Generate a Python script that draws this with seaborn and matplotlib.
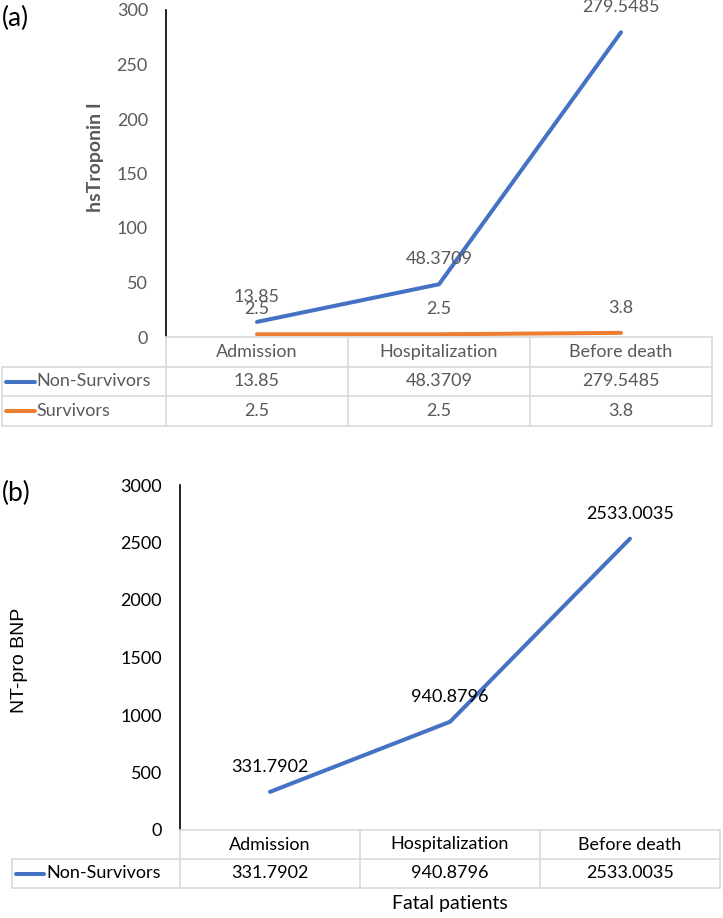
import numpy as np
import pandas as pd
import seaborn as sns
import matplotlib.pyplot as plt

# values
stages = ["Admission", "Hospitalization", "Before death"]
tropo_non_survivors = [13.85, 48.3709, 279.5485]
tropo_survivors = [2.5, 2.5, 3.8]
bnp_non_survivors = [331.7902, 940.8796, 2533.0035]
tropo_ticks = [0, 50, 100, 150, 200, 250, 300]
bnp_ticks = [0, 500, 1000, 1500, 2000, 2500, 3000]

BLUE = "#4472C4"
ORANGE = "#ED7D31"
GRID = "#D9D9D9"
FS = 13

sns.set_style("white")
plt.rcParams["font.family"] = ["Lato", "DejaVu Sans"]

W, H = 723, 918
fig = plt.figure(figsize=(W / 100, H / 100), dpi=100)


def px_axes(left, top, right, bottom):
    return fig.add_axes([left / W, 1 - bottom / H, (right - left) / W, (bottom - top) / H])


def panel(plot_box, table_left, table_bottom, series, ticks, txt_color):
    left, top, right, bottom = plot_box
    ax = px_axes(left, top, right, bottom)
    df = pd.DataFrame([(name, s, v) for name, vals, _ in series for s, v in zip(stages, vals)],
                      columns=["series", "stage", "value"])
    pal = {name: c for name, _, c in series}
    df["x"] = df["stage"].map({s: i for i, s in enumerate(stages)})
    sns.lineplot(data=df, x="x", y="value", hue="series", palette=pal, ax=ax,
                 linewidth=2.9, legend=False, sort=False)
    for name, vals, c in series:
        for i, v in enumerate(vals):
            ax.annotate(str(v), (i, v), xytext=(0, 18), textcoords="offset points",
                        ha="center", va="center", fontsize=FS, color=txt_color)
    ax.set_xlim(-0.5, 2.5)
    ax.set_ylim(ticks[0], ticks[-1])
    ax.set_yticks(ticks)
    ax.set_xticks([])
    ax.set_xlabel("")
    ax.set_ylabel("")
    ax.tick_params(axis="y", length=0, pad=13, labelsize=FS, labelcolor=txt_color)
    for sp in ["top", "right", "bottom"]:
        ax.spines[sp].set_visible(False)
    ax.spines["left"].set_color("black")
    ax.spines["left"].set_linewidth(1.2)

    # data table below the plot
    col_w = (right - left) / 3
    nrows = 1 + len(series)
    tb = px_axes(table_left, bottom, right, table_bottom)
    x0 = -0.5 - (left - table_left) / col_w
    tb.set_xlim(x0, 2.5)
    tb.set_ylim(nrows, 0)
    tb.axis("off")
    kw = dict(color=GRID, lw=1.2, clip_on=False)
    tb.plot([-0.5, 2.5], [0, 0], **kw)
    for r in range(1, nrows + 1):
        tb.plot([x0, 2.5], [r, r], **kw)
    tb.plot([x0, x0], [1, nrows], **kw)
    for c in range(4):
        tb.plot([c - 0.5, c - 0.5], [0, nrows], **kw)
    for i, s in enumerate(stages):
        tb.text(i, 0.5, s, ha="center", va="center", fontsize=FS, color=txt_color)
    for r, (name, vals, c) in enumerate(series, start=1):
        tb.plot([x0 + 0.02, x0 + 0.18], [r + 0.5, r + 0.5], color=c, lw=2.9,
                solid_capstyle="round", clip_on=False)
        tb.text(x0 + 0.19, r + 0.5, name, ha="left", va="center", fontsize=FS, color=txt_color)
        for i, v in enumerate(vals):
            tb.text(i, r + 0.5, str(v), ha="center", va="center", fontsize=FS, color=txt_color)
    return ax


gray = "#595959"
panel((166, 10, 712, 337), 2, 426,
      [("Non-Survivors", tropo_non_survivors, BLUE), ("Survivors", tropo_survivors, ORANGE)],
      tropo_ticks, gray)
fig.text(95 / W, 1 - 157 / H, "hsTroponin I", rotation=90, ha="center", va="center",
         fontsize=14, fontweight="bold", color=gray)
fig.text(2 / W, 1 - 18 / H, "(a)", ha="left", va="center", fontsize=19, color="black")

panel((180, 485, 720, 830), 12, 888,
      [("Non-Survivors", bnp_non_survivors, BLUE)],
      bnp_ticks, "black")
fig.text(20 / W, 1 - 660 / H, "NT-pro BNP", rotation=90, ha="center", va="center",
         fontsize=14, color="black", family="Liberation Sans")
fig.text(2 / W, 1 - 493 / H, "(b)", ha="left", va="center", fontsize=19, color="black")
fig.text(450 / W, 1 - 904 / H, "Fatal patients", ha="center", va="center",
         fontsize=14, color="black")

fig.savefig("out.png", dpi=100)
